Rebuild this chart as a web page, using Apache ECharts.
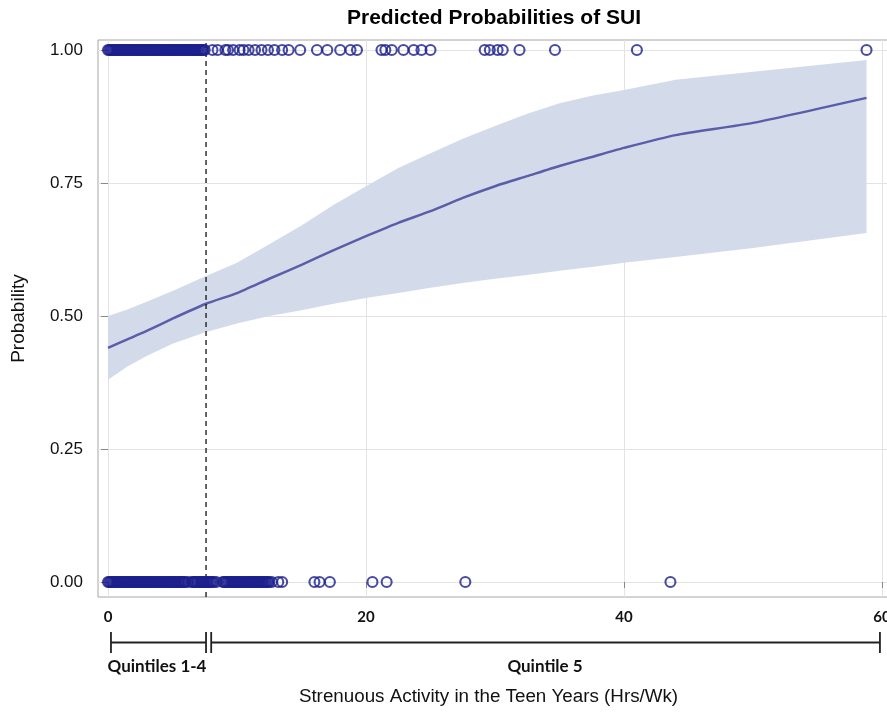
<!DOCTYPE html>
<html><head><meta charset="utf-8">
<script src="https://cdn.jsdelivr.net/npm/echarts@6/dist/echarts.min.js"></script>
<style>html,body{margin:0;padding:0;background:#fff}#c{width:887px;height:716px}</style>
</head><body><div id="c"></div>
<script>
// ---- data ----
const curveX    = [0, 1.5, 3, 5, 7.6, 10, 12.5, 15, 17.5, 20, 22.5, 25, 27.5, 30, 32.5, 35, 37.5, 40, 44, 50, 58.8];
const predicted = [0.44, 0.456, 0.472, 0.495, 0.523, 0.543, 0.57, 0.596, 0.624, 0.650, 0.675, 0.697, 0.722, 0.744, 0.763, 0.782, 0.799, 0.816, 0.840, 0.863, 0.910];
const upperCL   = [0.50, 0.512, 0.527, 0.547, 0.575, 0.60, 0.635, 0.67, 0.709, 0.744, 0.778, 0.806, 0.833, 0.857, 0.88, 0.90, 0.914, 0.925, 0.944, 0.959, 0.981];
const lowerCL   = [0.38, 0.405, 0.425, 0.448, 0.47, 0.486, 0.50, 0.511, 0.523, 0.534, 0.543, 0.553, 0.562, 0.57, 0.577, 0.585, 0.592, 0.60, 0.611, 0.628, 0.656];

const suiYesX = [0,0.1,0.2,0.3,0.4,0.5,0.6,0.7,0.8,0.9,1,1.1,1.2,1.3,1.4,1.5,1.6,1.7,1.8,1.9,2,2.1,2.2,2.3,2.4,2.5,2.6,2.7,2.8,2.9,3,3.1,3.2,3.3,3.4,3.5,3.6,3.7,3.8,3.9,4,4.1,4.2,4.3,4.4,4.5,4.6,4.7,4.8,4.9,5,5.1,5.2,5.3,5.4,5.5,5.6,5.7,5.8,5.9,6,6.1,6.2,6.3,6.4,6.5,6.6,6.7,6.8,6.9,7,7.1,7.2,7.3,7.4,7.5,
  8.1,8.5,9.1,9.3,9.7,10.2,10.5,10.9,11.4,11.9,12.4,12.9,13.5,14.0,14.9,16.2,17.0,18.0,18.8,19.3,21.2,21.5,22.0,22.9,23.7,24.3,25.0,29.2,29.6,30.2,30.6,31.9,34.65,41.0,58.8];
const suiNoX = [0,0.1,0.2,0.3,0.4,0.5,0.6,0.7,0.8,0.9,1,1.1,1.2,1.3,1.4,1.5,1.6,1.7,1.8,1.9,2,2.1,2.2,2.3,2.4,2.5,2.6,2.7,2.8,2.9,3,3.1,3.2,3.3,3.4,3.5,3.6,3.7,3.8,3.9,4,4.1,4.2,4.3,4.4,4.5,4.6,4.7,4.8,4.9,5,5.1,5.2,5.3,5.4,5.5,5.6,5.7,5.8,5.9,6,6.2,
  6.5,6.6,6.7,6.8,6.9,7,7.1,7.2,7.3,7.4,7.5,7.6,7.7,7.8,7.9,8,8.1,8.2,8.4,
  8.9,9.0,9.1,9.2,9.3,9.4,9.5,9.6,9.7,9.8,9.9,10,10.1,10.2,10.3,10.4,10.5,10.6,10.7,10.8,10.9,11,11.1,11.2,11.3,11.4,11.5,11.6,11.7,11.8,11.9,12,12.1,12.2,12.3,12.4,12.5,
  12.7,13.2,13.5,16.0,16.4,17.2,20.5,21.6,27.7,43.6];

const xTicks = [0, 20, 40, 60];
const yTicks = [0, 0.25, 0.5, 0.75, 1];
const cutoff = 7.6;
const bracketQ14 = [0.23, 7.6];
const bracketQ5  = [8.0, 59.84];

// ---- build ----
const chart = echarts.init(document.getElementById('c'), null, {renderer: 'canvas'});
function bracket(a, b) {
  return [[a,1],[a,0],[a,0.5],[b,0.5],[b,1],[b,0]];
}
const markerStyle = {color: 'rgba(0,0,0,0)', borderColor: '#1b1f8c', borderWidth: 2.1};
const bandData = curveX.map((x, i) => [x, lowerCL[i], upperCL[i]]);

chart.setOption({
  animation: false,
  backgroundColor: '#fff',
  grid: [
    {left: 98, right: -2, top: 40, bottom: 119, show: true, borderColor: '#a6a6a6', borderWidth: 1,
     backgroundColor: 'rgba(0,0,0,0)', outerBoundsMode: 'none', containLabel: false},
    {left: 108, right: 5, top: 632, height: 21, outerBoundsMode: 'none', containLabel: false}
  ],
  xAxis: [
    {gridIndex: 0, type: 'value', min: -0.77519, max: 60.5426,
     axisLine: {show: false},
     axisTick: {show: true, length: 6, customValues: xTicks, lineStyle: {color: '#888'}},
     axisLabel: {margin: 13, fontSize: 15, fontWeight: 'bold', color: '#111', fontFamily: 'Lato, sans-serif', customValues: xTicks},
     splitLine: {show: true, lineStyle: {color: '#e3e3e3', width: 1}},
     name: 'Strenuous Activity in the Teen Years (Hrs/Wk)', nameLocation: 'middle', nameGap: 90,
     nameTextStyle: {fontSize: 18.8, color: '#111', fontFamily: 'Liberation Sans, Arial, sans-serif', padding: [0, 10, 0, 0]}},
    {gridIndex: 1, type: 'value', min: 0, max: 60, show: false}
  ],
  yAxis: [
    {gridIndex: 0, type: 'value', min: -0.028195, max: 1.018797,
     axisLine: {show: false},
     axisTick: {show: true, length: 7, customValues: yTicks, lineStyle: {color: '#888'}},
     axisLabel: {margin: 15, fontSize: 17, color: '#111', fontFamily: 'Liberation Sans, Arial, sans-serif',
                 customValues: yTicks, formatter: v => v.toFixed(2)},
     splitLine: {show: true, lineStyle: {color: '#e3e3e3', width: 1}},
     name: 'Probability', nameLocation: 'middle', nameGap: 70,
     nameTextStyle: {fontSize: 19, color: '#111', fontFamily: 'Liberation Sans, Arial, sans-serif'}},
    {gridIndex: 1, type: 'value', min: 0, max: 1, show: false}
  ],
  series: [
    {type: 'custom', coordinateSystem: 'cartesian2d', xAxisIndex: 0, yAxisIndex: 0, z: 1,
     encode: {x: 0, y: [1, 2]}, data: bandData,
     renderItem: function (params, api) {
       if (params.dataIndex !== 0) return null;
       const pts = [];
       for (let i = 0; i < bandData.length; i++) pts.push(api.coord([bandData[i][0], bandData[i][2]]));
       for (let i = bandData.length - 1; i >= 0; i--) pts.push(api.coord([bandData[i][0], bandData[i][1]]));
       return {type: 'polygon', shape: {points: pts}, style: {fill: '#d3dbeb', stroke: null}};
     }},
    {type: 'line', xAxisIndex: 0, yAxisIndex: 0, symbol: 'none', smooth: 0.2,
     lineStyle: {color: '#5a5ea8', width: 2.5}, data: curveX.map((x, i) => [x, predicted[i]]), z: 3},
    {type: 'line', xAxisIndex: 0, yAxisIndex: 0, symbol: 'none',
     lineStyle: {color: '#111', width: 1.3, type: [5, 4]},
     data: [[cutoff, -0.028195], [cutoff, 1.018797]], z: 4},
    {type: 'scatter', xAxisIndex: 0, yAxisIndex: 0, symbol: 'circle', symbolSize: 10, clip: false,
     itemStyle: markerStyle, data: suiYesX.map(x => [x, 1]), z: 5},
    {type: 'scatter', xAxisIndex: 0, yAxisIndex: 0, symbol: 'circle', symbolSize: 10, clip: false,
     itemStyle: markerStyle, data: suiNoX.map(x => [x, 0]), z: 5},
    {type: 'line', xAxisIndex: 1, yAxisIndex: 1, symbol: 'none', lineStyle: {color: '#222', width: 1.8},
     data: bracket(bracketQ14[0], bracketQ14[1])},
    {type: 'line', xAxisIndex: 1, yAxisIndex: 1, symbol: 'none', lineStyle: {color: '#222', width: 1.8},
     data: bracket(bracketQ5[0], bracketQ5[1])}
  ],
  graphic: [
    {type: 'text', x: 494, y: 18, style: {text: 'Predicted Probabilities of SUI', align: 'center', verticalAlign: 'middle',
      font: 'bold 21px "Liberation Sans", Arial, sans-serif', fill: '#000'}},
    {type: 'text', x: 157, y: 667, style: {text: 'Quintiles 1-4', align: 'center', verticalAlign: 'middle',
      font: 'bold 17px Lato, sans-serif', fill: '#111'}},
    {type: 'text', x: 545, y: 667, style: {text: 'Quintile 5', align: 'center', verticalAlign: 'middle',
      font: 'bold 17px Lato, sans-serif', fill: '#111'}}
  ]
});
</script></body></html>
